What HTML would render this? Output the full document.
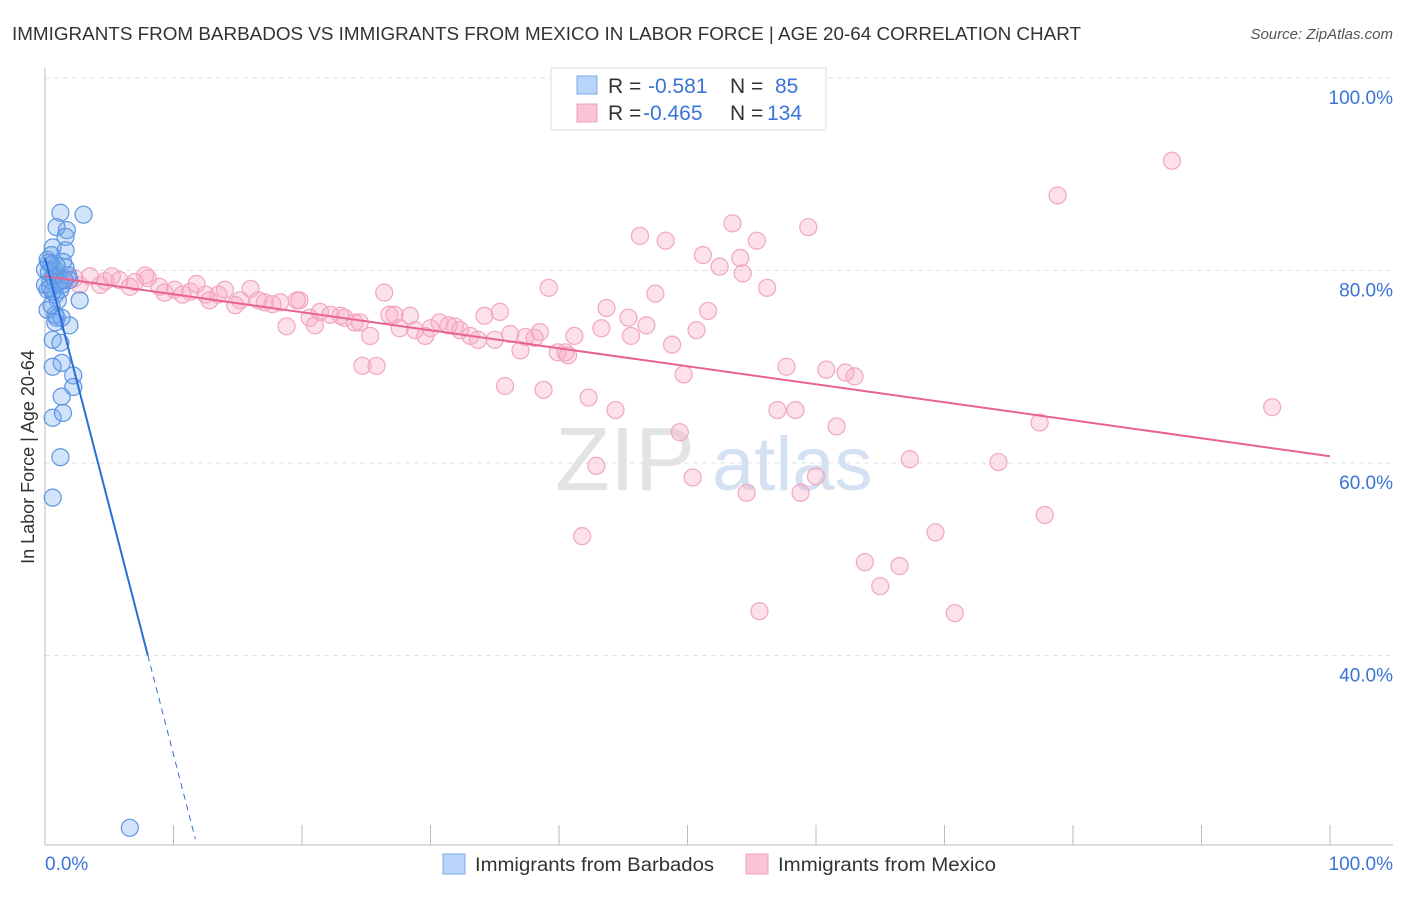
<!DOCTYPE html>
<html><head><meta charset="utf-8"><style>
body{margin:0;background:#fff;font-family:"Liberation Sans",sans-serif;}
svg text{font-family:"Liberation Sans",sans-serif;}
</style></head><body>
<svg id="chart" width="1406" height="892" xmlns="http://www.w3.org/2000/svg">
<text x="12" y="40" font-size="18.5" fill="#333" textLength="1069" lengthAdjust="spacingAndGlyphs">IMMIGRANTS FROM BARBADOS VS IMMIGRANTS FROM MEXICO IN LABOR FORCE | AGE 20-64 CORRELATION CHART</text>
<text x="1393" y="39" font-size="15" fill="#555" text-anchor="end" font-style="italic">Source: ZipAtlas.com</text>
<g><text x="555" y="490" font-size="90" fill="#ddd" font-family="Liberation Serif" opacity="0.8">ZIP</text><text x="712" y="490" font-size="76" fill="#c9daf0" opacity="0.8">atlas</text></g>
<g id="grid"></g>
<g id="axes"></g>
<g id="marks"></g>
<g>
<rect x="551" y="68" width="275" height="62" fill="#fff" stroke="#ddd"/>
<rect x="577" y="76" width="20" height="18" fill="#b8d4f8" stroke="#7eaae8"/>
<text x="608" y="93" font-size="21" fill="#333">R = </text><text x="648" y="93" font-size="21" fill="#3a74d6">-0.581</text>
<text x="730" y="93" font-size="21" fill="#333">N = </text><text x="775" y="93" font-size="21" fill="#3a74d6">85</text>
<rect x="577" y="104" width="20" height="18" fill="#f9c4d4" stroke="#f0a0bb"/>
<text x="608" y="120" font-size="21" fill="#333">R = </text><text x="643" y="120" font-size="21" fill="#3a74d6">-0.465</text>
<text x="730" y="120" font-size="21" fill="#333">N = </text><text x="767" y="120" font-size="21" fill="#3a74d6">134</text>
</g>
<g>
<rect x="443" y="854" width="22" height="20" fill="#b8d4f8" stroke="#7eaae8"/>
<text x="475" y="871" font-size="19" fill="#333" textLength="239" lengthAdjust="spacingAndGlyphs">Immigrants from Barbados</text>
<rect x="746" y="854" width="22" height="20" fill="#f9c4d4" stroke="#f0a0bb"/>
<text x="778" y="871" font-size="19" fill="#333" textLength="218" lengthAdjust="spacingAndGlyphs">Immigrants from Mexico</text>
</g>
<text transform="translate(34,457) rotate(-90)" font-size="18" fill="#333" text-anchor="middle">In Labor Force | Age 20-64</text>
</svg>
<script>
const yTicks=[100,80,60,40];
const yTickLabels=["100.0%","80.0%","60.0%","40.0%"];
const xTicks=[0,10,20,30,40,50,60,70,80,90,100];
const blueX=[1.2,3.0,0.9,1.7,1.6,0.6,1.6,2.7,0.8,1.9,0.6,1.2,1.3,0.6,2.2,2.2,1.3,0.6,1.4,1.2,0.6,6.6,0.2,0.5,0.8,1.0,0.4,1.3,0.2,0.8,1.6,1.9,1.2,0.5,1.0,0.2,0.9,0.5,0,1.4,0,1.8,1.3,0.8,0.3,0.7,1.1,0.4,0.9,0.6,1.5,0.3];
const blueY=[86.0,85.8,84.5,84.2,83.5,82.4,82.1,76.9,75.4,74.3,72.8,72.5,70.4,70.0,69.1,67.9,66.9,64.7,65.2,60.6,56.4,22.1,81.1,80.6,80.1,79.5,79.0,78.5,78.0,77.5,80.3,79.0,78.0,81.6,76.9,75.9,75.1,76.4,80.1,80.9,78.5,79.5,75.1,74.6,79.8,79.2,78.8,78.2,80.5,77.8,79.0,80.8];
const pinkX=[87.7,78.8,53.5,59.4,46.3,48.3,55.4,51.2,54.1,52.5,54.3,39.2,47.5,56.2,26.4,43.7,51.6,45.4,43.3,46.8,45.6,50.7,48.8,57.7,60.8,62.3,63.0,49.7,35.8,38.8,24.7,25.8,42.3,44.4,57.0,58.4,61.6,77.4,49.4,42.9,50.4,67.3,74.2,54.6,58.8,60.0,77.8,41.8,69.3,63.8,66.5,65.0,55.6,70.8,95.5,47.8,
2.3,3.5,4.7,5.8,7.0,8.0,8.9,10.1,11.3,11.8,12.8,14.0,15.2,16.0,17.1,18.3,19.6,20.6,21.4,22.2,23.3,24.1,25.3,26.8,27.6,28.4,29.6,30.7,31.9,33.1,34.2,35.4,36.2,37.4,38.5,39.9,40.5,41.2,1.2,1.8,2.7,4.3,5.2,6.6,7.8,9.3,10.7,12.5,13.5,14.8,16.6,17.7,18.8,19.8,21.0,23.0,24.5,27.2,28.8,30.0,31.4,32.3,33.7,35.0,37.0,40.7,38.1];
const pinkY=[91.4,87.8,84.9,84.5,83.6,83.1,83.1,81.6,81.3,80.4,79.7,78.2,77.6,78.2,77.7,76.1,75.8,75.1,74.0,74.3,73.2,73.8,72.3,70.0,69.7,69.4,69.0,69.2,68.0,67.6,70.1,70.1,66.8,65.5,65.5,65.5,63.8,64.2,63.2,59.7,58.5,60.4,60.1,56.9,56.9,58.6,54.6,52.4,52.8,49.7,49.3,47.2,44.6,44.4,65.8,100,
79.2,79.4,78.9,79.0,78.8,79.2,78.3,78.0,77.8,78.6,76.9,78.0,76.9,78.1,76.7,76.7,76.9,75.1,75.7,75.4,75.1,74.6,73.2,75.4,74.0,75.3,73.2,74.6,74.2,73.2,75.3,75.7,73.4,73.1,73.6,71.5,71.5,73.2,79.0,79.2,78.5,78.5,79.4,78.3,79.5,77.7,77.5,77.5,77.5,76.4,76.9,76.5,74.2,76.9,74.3,75.3,74.6,75.4,73.8,74.0,74.3,73.8,72.8,72.8,71.7,71.2,73.0];
const blueTrend=[81.3,-5.16];
const pinkTrend=[79.4,-0.187];
const NS="http://www.w3.org/2000/svg";
const X=v=>45+v*12.85, Y=v=>78+(100-v)*9.625;
function mk(tag,attrs,parent){const e=document.createElementNS(NS,tag);for(const k in attrs)e.setAttribute(k,attrs[k]);parent.appendChild(e);return e;}
const grid=document.getElementById('grid'),axes=document.getElementById('axes'),marks=document.getElementById('marks');
yTicks.forEach((t,i)=>{
 const l=mk('line',{x1:45,x2:1393,y1:Y(t),y2:Y(t),stroke:'#e2e2e2','stroke-dasharray':'5,4'},grid);
 
 
 const tx=mk('text',{x:1393,y:Y(t)+26,'font-size':19,fill:'#3a74d6','text-anchor':'end'},axes);
 tx.textContent=yTickLabels[i];
 
 
});
const ax=mk('line',{x1:45,x2:45,y1:68,y2:845,stroke:'#bbb'},axes);


const bx=mk('line',{x1:45,x2:1393,y1:845,y2:845,stroke:'#bbb'},axes);


xTicks.forEach(t=>{
 const l=mk('line',{x1:X(t),x2:X(t),y1:825,y2:845,stroke:'#bbb'},axes);
 
 
});
const xl0=mk('text',{x:45,y:870,'font-size':19,fill:'#3a74d6'},axes);xl0.textContent='0.0%';


const xl1=mk('text',{x:1393,y:870,'font-size':19,fill:'#3a74d6','text-anchor':'end'},axes);xl1.textContent='100.0%';


pinkX.forEach((v,i)=>{
 const c=mk('circle',{cx:X(v),cy:Y(pinkY[i]),r:8.5,fill:'rgba(248,170,196,0.35)',stroke:'#f2a6bf','stroke-width':1.2},marks);
 
 
});
blueX.forEach((v,i)=>{
 const c=mk('circle',{cx:X(v),cy:Y(blueY[i]),r:8.5,fill:'rgba(110,165,240,0.3)',stroke:'#5d95e2','stroke-width':1.2},marks);
 
 
});
const pl=mk('line',{x1:X(0),y1:Y(pinkTrend[0]),x2:X(100),y2:Y(pinkTrend[0]+pinkTrend[1]*100),stroke:'#e8638f','stroke-width':2},marks);


const xs=8.0, xe=11.7;
const bl=mk('line',{x1:X(0),y1:Y(blueTrend[0]),x2:X(xs),y2:Y(blueTrend[0]+blueTrend[1]*xs),stroke:'#2a6fd6','stroke-width':2},marks);


const bd=mk('line',{x1:X(xs),y1:Y(blueTrend[0]+blueTrend[1]*xs),x2:X(xe),y2:Y(blueTrend[0]+blueTrend[1]*xe),stroke:'#2a6fd6','stroke-width':1,'stroke-dasharray':'6,5'},marks);


</script>
</body></html>
